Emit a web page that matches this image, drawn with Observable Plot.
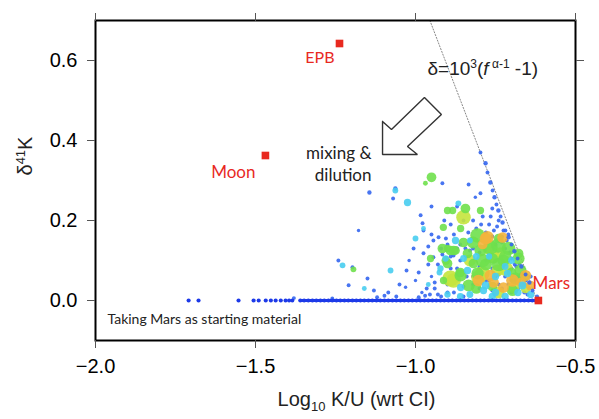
<!DOCTYPE html>
<html><head><meta charset="utf-8">
<script src="https://cdn.jsdelivr.net/npm/d3@7"></script>
<script src="https://cdn.jsdelivr.net/npm/@observablehq/plot@0.6"></script>
<style>body{margin:0;background:#fff}</style>
</head><body><div id="chart"></div>
<script>
// axis ticks
const xTicks = [-2, -1.5, -1, -0.5];
const yTicks = [0, 0.2, 0.4, 0.6];

// reference bodies (log10 K/U, delta41K)
const refNames = ["EPB", "Moon", "Mars"];
const refX = [-1.2375, -1.469, -0.616];
const refY = [0.6425, 0.3625, 0.0];

// Rayleigh trend end points
const trendX = [-0.955, -0.62];
const trendY = [0.7, 0.0];

// samples sitting on delta41K = 0
const baselineX = [-1.709,-1.678,-1.553,-1.506,-1.49,-1.468,-1.452,-1.437,-1.421,-1.406,-1.395,-1.385,
 -1.36,-1.348,-1.335,-1.322,-1.31,-1.297,-1.285,-1.272,-1.26,-1.247,-1.235,-1.222,-1.21,-1.197,-1.185,
 -1.172,-1.16,-1.147,-1.135,-1.122,-1.11,-1.097,-1.085,-1.072,-1.06,-1.047,-1.035,-1.022,-1.01,-0.997,
 -0.985,-0.972,-0.96,-0.947,-0.935,-0.922,-0.91,-0.897,-0.885,-0.872,-0.86,-0.847,-0.835,-0.822,-0.81,
 -0.797,-0.785,-0.772,-0.76,-0.747,-0.735,-0.722,-0.71,-0.697,-0.685,-0.672,-0.66,-0.647,-0.635,-0.625];

// samples along the Rayleigh trend edge [x, y, weight]
const edgePts = [
 [-0.797,0.370,0.8],[-0.781,0.343,0.9],[-0.775,0.320,0.8],[-0.766,0.295,0.9],[-0.759,0.275,0.8],
 [-0.753,0.258,0.9],[-0.747,0.240,0.8],[-0.741,0.225,0.9],[-0.734,0.210,0.8],[-0.728,0.195,0.9],
 [-0.719,0.175,0.8],[-0.709,0.158,0.9],[-0.700,0.140,0.8],[-0.691,0.123,0.9],[-0.681,0.105,0.8],
 [-0.669,0.085,0.9],[-0.656,0.065,0.8],[-0.644,0.045,0.9],[-0.634,0.025,0.8]
];
// [x, y, weight]
const bluePts = [
 [-1.144,0.270,0.9],[-1.063,0.280,0.9],[-0.916,0.293,0.8],[-0.834,0.290,0.8],[-0.797,0.268,0.8],
 [-0.813,0.258,0.7],[-0.984,0.213,0.8],[-0.978,0.193,0.8],[-0.975,0.175,0.8],[-0.91,0.20,0.8],
 [-0.944,0.150,0.8],[-0.928,0.158,0.8],[-1.006,0.130,0.8],[-0.975,0.118,0.8],[-0.944,0.108,0.8],
 [-1.178,0.175,0.7],[-1.241,0.100,0.8],[-1.197,0.083,0.8],[-1.150,0.055,0.8],[-1.209,0.038,0.8],
 [-1.031,0.033,0.7],[-1.028,0.075,0.8],[-1.02,0.10,0.7],[-1.0,0.05,0.7],[-0.98,0.02,0.7],
 [-0.94,0.03,0.8],[-0.95,0.06,0.7],[-0.916,0.115,0.8],[-0.88,0.165,0.8],[-0.86,0.14,0.8],
 [-0.82,0.20,0.8],[-0.79,0.21,0.8],[-0.77,0.19,0.8],[-0.76,0.23,0.8],[-0.755,0.175,0.8],
 [-0.74,0.20,0.8],[-0.73,0.16,0.8],[-0.72,0.13,0.8],[-0.71,0.10,0.8],[-0.70,0.08,0.8],
 [-0.69,0.05,0.8],[-0.66,0.04,0.8],[-0.675,0.09,0.8],[-0.86,0.10,0.8],[-0.84,0.06,0.8],
 [-0.80,0.03,0.8],[-0.77,0.05,0.8],[-0.74,0.04,0.8],[-0.72,0.06,0.8],[-0.70,0.02,0.8],
 [-0.88,0.02,0.8],[-0.90,0.04,0.8],[-0.93,0.09,0.8],[-0.87,0.08,0.8],[-0.82,0.13,0.8],
 [-0.78,0.10,0.8],[-0.76,0.08,0.8],[-0.73,0.03,0.8],[-0.65,0.015,0.8],[-0.62,0.01,0.8],
 [-1.097,0.012,0.8],[-1.12,0.008,0.8],[-1.06,0.01,0.8],[-0.99,0.008,0.8],[-0.97,0.012,0.8],
 [-0.96,0.09,0.8],[-0.95,0.165,0.8],[-0.89,0.19,0.8],[-0.905,0.155,0.8],[-0.85,0.20,0.8],
 [-0.835,0.17,0.8],[-0.81,0.18,0.8],[-0.79,0.15,0.8],[-0.745,0.12,0.8],[-0.705,0.12,0.8],
 [-0.69,0.09,0.8],[-0.68,0.06,0.8],[-0.66,0.02,0.8],[-0.89,0.11,0.8],[-0.92,0.13,0.8],
 [-0.96,0.135,0.8],[-0.99,0.07,0.8],[-0.955,0.015,0.8],[-0.92,0.01,0.8],[-0.85,0.01,0.8],
 [-0.82,0.04,0.8],[-0.79,0.07,0.8],[-0.75,0.06,0.8],[-0.71,0.04,0.8],[-1.26,0.005,0.8],
 [-1.38,0.006,0.8],[-1.07,0.255,0.8],[-0.95,0.235,0.8],[-0.87,0.235,0.8],
 [-0.881,0.1125,0.8],[-0.844,0.13,0.8],[-0.9,0.14,0.8],[-0.87,0.13,0.8],[-0.83,0.125,0.8],
 [-0.8,0.12,0.8],[-0.77,0.115,0.8],[-0.75,0.14,0.8],[-0.73,0.145,0.8],[-0.715,0.15,0.8],
 [-0.7,0.105,0.8],[-0.685,0.085,0.8],[-0.67,0.065,0.8],[-0.655,0.05,0.8],[-0.645,0.03,0.8],
 [-0.64,0.06,0.8],[-0.76,0.16,0.8],[-0.78,0.17,0.8],[-0.795,0.19,0.8],[-0.765,0.21,0.8],
 [-0.745,0.185,0.8],[-0.725,0.175,0.8],[-0.71,0.165,0.8],[-0.89,0.08,0.8],[-0.87,0.05,0.8],
 [-0.85,0.035,0.8],[-0.82,0.06,0.8],[-0.8,0.085,0.8],[-0.78,0.05,0.8],[-0.76,0.025,0.8],
 [-0.74,0.065,0.8],[-0.7,0.05,0.8],[-0.68,0.03,0.8],[-0.9,0.02,0.8],[-0.94,0.045,0.8],
 [-0.93,0.015,0.8],[-1.05,0.04,0.8],[-1.085,0.02,0.8],[-1.13,0.025,0.8],[-0.965,0.03,0.8]
];
const cyanPts = [
 [-1.063,0.275,1.2],[-1.025,0.245,1.5],[-0.866,0.243,1.2],[-1.0,0.155,1.2],[-1.078,0.075,1.2],
 [-1.228,0.088,1.2],[-0.859,0.0325,1.5],[-0.7875,0.025,1.5],[-0.7125,0.0675,1.5],[-0.8375,0.075,1.5],
 [-0.975,0.18,1.0],[-0.925,0.07,1.2],[-0.96,0.04,1.0],[-0.75,0.02,1.5],[-0.68,0.02,1.5],
 [-0.83,0.15,1.2],[-1.16,0.03,1.0],[-0.90,0.015,1.3],[-0.77,0.11,1.3],[-0.72,0.085,1.4],
 [-0.875,0.15,1.5],[-0.781,0.0375,1.6],[-0.666,0.0375,1.6],[-0.906,0.105,1.3],[-0.922,0.08,1.3],
 [-0.85,0.105,1.4],[-0.81,0.11,1.4],[-0.75,0.06,1.5],[-0.70,0.10,1.4],[-0.86,0.01,1.4],
 [-0.83,0.015,1.4],[-0.64,0.015,1.5],[-0.76,0.01,1.5],[-0.72,0.01,1.5]
];
const greenPts = [
 [-0.950,0.308,2.0],[-0.969,0.293,1.0],[-0.900,0.225,1.5],[-0.884,0.225,1.5],[-0.844,0.230,2.0],
 [-0.797,0.225,1.5],[-0.913,0.183,1.5],[-0.859,0.180,1.5],[-0.953,0.105,1.5],[-0.900,0.130,1.5],
 [-0.806,0.1625,3.0],[-0.766,0.1325,3.0],[-0.797,0.125,2.5],[-0.8375,0.1175,2.0],[-0.881,0.125,2.0],
 [-0.900,0.0925,2.0],[-0.819,0.0925,2.0],[-0.725,0.10,2.5],[-0.678,0.1175,2.0],[-0.672,0.075,2.5],
 [-0.9125,0.05,1.5],[-0.806,0.068,2.5],[-1.194,0.078,1.2],[-0.78,0.09,2.5],[-0.70,0.07,2.0],
 [-0.74,0.155,2.0],[-0.86,0.07,2.0],[-0.76,0.035,2.0],
 [-0.916,0.13,2.0],[-0.891,0.125,2.0],[-0.875,0.125,1.8],[-0.741,0.1375,3.0],[-0.709,0.13,2.8],
 [-0.678,0.105,2.5],[-0.759,0.105,2.2],[-0.859,0.0625,2.5],[-0.834,0.0375,2.5],[-0.6875,0.055,2.5],
 [-0.697,0.025,2.3],[-0.85,0.145,2.0],[-0.82,0.145,2.5],[-0.79,0.10,2.8],[-0.72,0.11,2.5],
 [-0.66,0.06,2.0],[-0.905,0.10,1.8],[-0.81,0.03,2.2],[-0.74,0.09,2.8]
];
const yellowPts = [
 [-0.850,0.208,3.0],[-0.756,0.1075,2.5],[-0.881,0.05,3.0],[-0.803,0.0575,3.0],[-0.744,0.075,2.5],
 [-0.694,0.0325,2.5],[-0.656,0.03,2.0],[-0.735,0.12,2.2],[-0.83,0.10,2.5],
 [-0.891,0.055,3.3],[-0.791,0.0675,3.0],[-0.719,0.08,3.0],[-0.741,0.02,2.5],[-0.772,0.13,2.5]
];
const orangePts = [
 [-0.775,0.158,2.6],[-0.766,0.0625,2.4],[-0.697,0.05,2.6],[-0.725,0.0325,2.2],[-0.641,0.0375,2.0],
 [-0.756,0.045,2.2],[-0.79,0.14,2.0],
 [-0.781,0.155,2.4],[-0.728,0.1575,2.2],[-0.803,0.05,2.4],[-0.656,0.0625,2.3],[-0.67,0.045,2.0]
];

// arrow outline (data units)
const arrowX = [-1.103,-1.103,-0.994,-1.025,-0.919,-0.972,-1.075,-1.103];
const arrowY = [0.4475,0.365,0.365,0.385,0.465,0.5075,0.4275,0.4475];

const groups = [
  ["blue", bluePts, "#3466f0"],
  ["yellow", yellowPts, "#c4e43c"],
  ["green", greenPts, "#6fe04c"],
  ["orange", orangePts, "#f3b43c"],
  ["cyan", cyanPts, "#48cdf0"],
  ["edge", edgePts, "#3466f0"]
];
const samples = groups.flatMap(([g, pts, c]) => pts.map(([x, y, w]) => ({x, y, w, c})));
const baseline = baselineX.map(x => ({x, y: 0, w: 0.85}));
const refs = refNames.map((n, i) => ({n, x: refX[i], y: refY[i]}));
const trend = trendX.map((x, i) => ({x, y: trendY[i]}));
const arrow = arrowX.map((x, i) => ({x, y: arrowY[i]}));

const annFont = "Lato, 'Open Sans', sans-serif";
const red = "#e8291f";

const chart = Plot.plot({
  width: 599, height: 419,
  marginLeft: 95, marginRight: 24, marginTop: 20, marginBottom: 79,
  style: {fontFamily: "'Liberation Sans', Arial, sans-serif", background: "#fff"},
  x: {domain: [-2, -0.5]},
  y: {domain: [-0.1, 0.7]},
  r: {type: "linear", domain: [0, 3], range: [0, 7.3]},
  marks: [
    Plot.line(trend, {x: "x", y: "y", stroke: "#888", strokeWidth: 1, strokeDasharray: "1.2,1.8"}),
    Plot.line(arrow, {x: "x", y: "y", stroke: "#333", strokeWidth: 1.4, fill: "none", strokeLinejoin: "miter"}),
    Plot.dot(samples, {x: "x", y: "y", r: "w", fill: d => d.c, fillOpacity: 0.9, sort: null}),
    Plot.line(baseline.filter(d => d.x >= -1.36), {x: "x", y: "y", stroke: "#1d3ae8", strokeWidth: 3}),
    Plot.dot(baseline, {x: "x", y: "y", r: "w", fill: "#1d3ae8", sort: null}),
    Plot.dot(refs, {x: "x", y: "y", symbol: "square", r: 4.3, fill: red}),
    Plot.text(["EPB"], {x: [-1.253], y: [0.6075], text: d => d, textAnchor: "end", fill: red, fontSize: 16, fontFamily: annFont}),
    Plot.text(["Moon"], {x: [-1.5], y: [0.32], text: d => d, textAnchor: "end", fill: red, fontSize: 17, fontFamily: annFont}),
    Plot.text(["Mars"], {x: [-0.634], y: [0.0425], text: d => d, textAnchor: "start", fill: red, fontSize: 17, fontFamily: annFont}),
    Plot.text(["mixing &", "dilution"], {x: [-1.1375, -1.1375], y: [0.3675, 0.3125], text: d => d, textAnchor: "end", fill: "#222", fontSize: 17, fontFamily: annFont}),
    Plot.text(["Taking Mars as starting material"], {x: [-1.9625], y: [-0.0475], text: d => d, textAnchor: "start", fill: "#222", fontSize: 14, fontFamily: annFont}),
    Plot.text(["δ=10^3(f α-1 -1)"], {x: [-0.9625], y: [0.58], text: d => d, textAnchor: "start", fill: "#222", fontSize: 19, className: "eq"}),
    Plot.frame({stroke: "#000", strokeWidth: 2}),
    Plot.axisX({ticks: xTicks, tickFormat: d3.format(".1f"), tickSize: 8, tickPadding: 10, fontSize: 20, label: null, stroke: "#555"}),
    Plot.axisX({anchor: "top", ticks: xTicks, tickFormat: () => "", tickSize: 8, label: null, stroke: "#555"}),
    Plot.axisY({ticks: yTicks, tickFormat: d3.format(".1f"), tickSize: 8, tickPadding: 10, fontSize: 20, label: null, stroke: "#555"}),
    Plot.axisY({anchor: "right", ticks: yTicks, tickFormat: () => "", tickSize: 8, label: null, stroke: "#555"}),
    Plot.text(["δ41K"], {frameAnchor: "left", dx: -70, dy: -5, rotate: -90, text: d => d, fontSize: 20, fill: "#222", className: "ylab"}),
    Plot.text(["Log10 K/U (wrt CI)"], {frameAnchor: "bottom", dx: 21, dy: 65, text: d => d, fontSize: 20, fill: "#222", className: "xlab"})
  ]
});
document.getElementById("chart").appendChild(chart);

const svg = d3.select(chart);
function rich(sel, parts) {
  const t = svg.select(sel + " text");
  t.text(null);
  for (const [s, opt] of parts) {
    const ts = t.append("tspan").text(s);
    if (opt && opt.sup) ts.attr("font-size", opt.sup).attr("dy", opt.dy);
    if (opt && opt.sub) ts.attr("font-size", opt.sub).attr("dy", opt.dy);
    if (opt && opt.back) ts.attr("dy", opt.back);
    if (opt && opt.italic) ts.attr("font-style", "italic");
  }
}
rich(".eq", [["δ=10"], ["3", {sup: 12, dy: -7}], ["(", {back: 7}], ["f", {italic: true}], [" α-1", {sup: 12, dy: -7}], [" -1)", {back: 7}]]);
rich(".ylab", [["δ"], ["41", {sup: 13, dy: -7}], ["K", {back: 7}]]);
rich(".xlab", [["Log"], ["10", {sub: 13, dy: 5}], [" K/U (wrt CI)", {back: -5}]]);
</script>
</body></html>
